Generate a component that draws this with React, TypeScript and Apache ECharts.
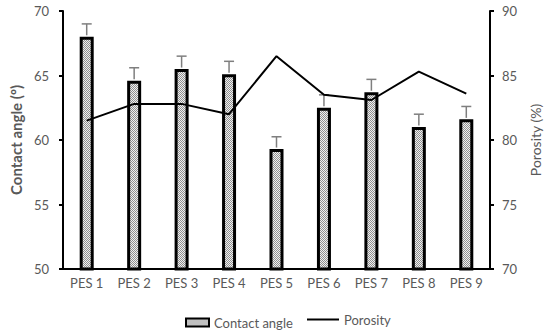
import React, { useEffect, useRef } from "react";
import * as echarts from "echarts";

const categories = ["PES 1", "PES 2", "PES 3", "PES 4", "PES 5", "PES 6", "PES 7", "PES 8", "PES 9"];
const contactAngle = [68.0, 64.6, 65.5, 65.1, 59.3, 62.5, 63.7, 61.0, 61.6];
const contactAngleErr = [1.0, 1.0, 1.0, 1.0, 0.95, 1.0, 1.0, 1.0, 1.0];
const porosity = [81.5, 82.8, 82.8, 82.0, 86.5, 83.5, 83.1, 85.3, 83.6];

const FONT = "Lato";
const GREY = "#595959";

function makePattern() {
  const c = document.createElement("canvas");
  c.width = 2;
  c.height = 2;
  const ctx = c.getContext("2d")!;
  ctx.fillStyle = "#f0f0f0";
  ctx.fillRect(0, 0, 2, 2);
  ctx.fillStyle = "#909090";
  ctx.fillRect(0, 0, 1, 1);
  ctx.fillRect(1, 1, 1, 1);
  return { image: c, repeat: "repeat" } as any;
}

export default function App() {
  const ref = useRef<HTMLDivElement>(null);
  useEffect(() => {
    const chart = echarts.init(ref.current!, null, { renderer: "svg" });
    const pattern = makePattern();
    const errData = contactAngle.map((v, i) => [i, v, contactAngleErr[i]]);
    chart.setOption({
      animation: false,
      textStyle: { fontFamily: FONT },
      grid: { left: 54, right: 57, top: 11, bottom: 63 },
      legend: [
        {
          left: 180,
          top: 311,
          data: [{ name: "Contact angle", icon: "rect" }],
          itemWidth: 23,
          itemHeight: 8,
          itemGap: 2,
          textStyle: { color: GREY, fontSize: 13, fontFamily: FONT },
        },
        {
          left: 302,
          top: 308,
          data: [{ name: "Porosity", icon: "rect", itemStyle: { color: "#000", borderWidth: 0 } }],
          itemWidth: 32,
          itemHeight: 2,
          textStyle: { color: GREY, fontSize: 13, fontFamily: FONT },
        },
      ],
      xAxis: {
        type: "category",
        data: categories,
        axisLine: { lineStyle: { color: "#000", width: 2 } },
        axisTick: { show: false },
        axisLabel: { color: GREY, fontSize: 13, margin: 7, fontFamily: FONT },
      },
      yAxis: [
        {
          type: "value",
          min: 50,
          max: 70,
          interval: 5,
          name: "Contact angle (º)",
          nameLocation: "middle",
          nameGap: 33,
          nameTextStyle: { color: GREY, fontSize: 15, fontWeight: "bold", fontFamily: FONT },
          axisLine: { show: true, lineStyle: { color: "#000", width: 2 } },
          axisTick: { show: true, length: 4, lineStyle: { color: "#000", width: 2 } },
          axisLabel: { color: GREY, fontSize: 13, margin: 14, fontFamily: FONT },
          splitLine: { show: false },
        },
        {
          type: "value",
          min: 70,
          max: 90,
          interval: 5,
          name: "Porosity (%)",
          nameLocation: "middle",
          nameGap: 36,
          nameRotate: 90,
          nameTextStyle: { color: GREY, fontSize: 14, fontFamily: FONT },
          axisLine: { show: true, lineStyle: { color: "#000", width: 2 } },
          axisTick: { show: true, length: 4, lineStyle: { color: "#000", width: 2 } },
          axisLabel: { color: GREY, fontSize: 13, margin: 12, fontFamily: FONT },
          splitLine: { show: false },
        },
      ],
      series: [
        {
          name: "Contact angle",
          type: "bar",
          yAxisIndex: 0,
          data: contactAngle,
          barWidth: 14,
          itemStyle: { color: pattern, borderColor: "#000", borderWidth: 3 },
          z: 2,
        },
        {
          name: "err",
          type: "custom",
          yAxisIndex: 0,
          data: errData,
          z: 3,
          renderItem: (params: any, api: any) => {
            const i = api.value(0);
            const v = api.value(1);
            const e = api.value(2);
            const p0 = api.coord([i, v]);
            const p1 = api.coord([i, v + e]);
            const style = { stroke: "#7f7f7f", lineWidth: 1.5 };
            return {
              type: "group",
              children: [
                { type: "line", shape: { x1: p0[0], y1: p0[1] - 1.5, x2: p1[0], y2: p1[1] }, style },
                { type: "line", shape: { x1: p1[0] - 5, y1: p1[1], x2: p1[0] + 5, y2: p1[1] }, style },
              ],
            };
          },
        },
        {
          name: "Porosity",
          type: "line",
          yAxisIndex: 1,
          data: porosity,
          symbol: "none",
          lineStyle: { color: "#000", width: 2 },
          itemStyle: { color: "#000" },
          z: 4,
        },
      ],
    });
    return () => chart.dispose();
  }, []);
  return (
    <div
      ref={ref}
      style={{ position: "fixed", left: 0, top: 0, width: 550, height: 332, background: "#fff" }}
    />
  );
}
